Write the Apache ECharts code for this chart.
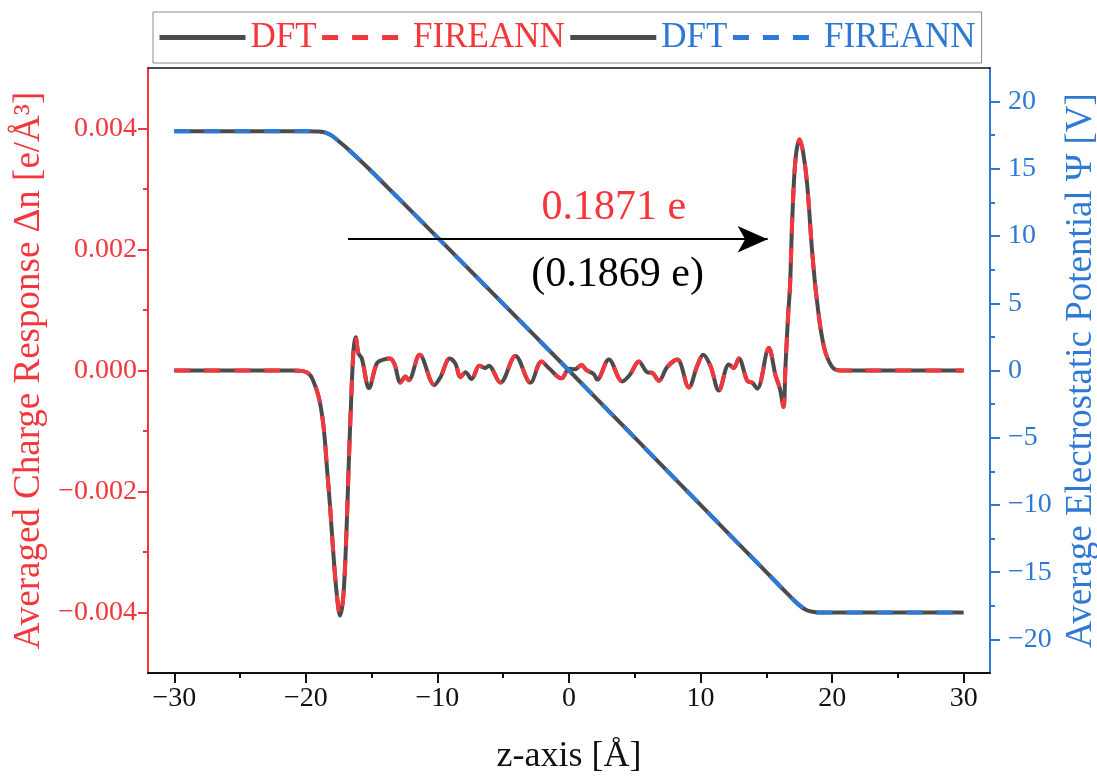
<!DOCTYPE html>
<html>
<head>
<meta charset="utf-8">
<script src="https://cdn.jsdelivr.net/npm/echarts@6/dist/echarts.min.js"></script>
<style>
html,body{margin:0;padding:0;background:#fff;}
#chart{width:1097px;height:776px;}
</style>
</head>
<body>
<div id="chart"></div>
<script>
// ---------- data ----------
const zDn = [-30, -25, -21, -20.2, -19.8, -19.5, -19.0, -18.65, -18.4, -18.15, -17.9, -17.65, -17.4, -17.15, -16.92, -16.75, -16.56, -16.38, -16.22, -16.0, -15.75, -15.2, -14.6, -14.1, -13.6, -13.27, -12.81, -12.43, -12.18, -11.35, -10.23, -9.77, -9.06, -8.63, -8.25, -7.87, -7.41, -6.81, -6.35, -6.1, -5.21, -4.07, -2.93, -2.09, -1.54, -0.57, 0.0, 0.45, 0.95, 1.3, 1.89, 2.14, 3.03, 4.05, 4.63, 5.31, 5.95, 6.33, 6.83, 7.47, 8.23, 9.11, 9.75, 10.2, 10.76, 11.39, 12.15, 12.53, 12.91, 13.55, 13.93, 14.31, 15.19, 15.7, 16.03, 16.3, 16.45, 16.65, 16.8, 16.97, 17.22, 17.53, 17.8, 18.11, 18.49, 18.87, 19.38, 20.0, 20.65, 25, 30];
const dnDft = [0, 0, 0, -0.00001, -0.00005, -0.00014, -0.00046, -0.00094, -0.0016, -0.00228, -0.00306, -0.0037, -0.00405, -0.00372, -0.0027, -0.0016, -0.0005, 0.00033, 0.00055, 0.00028, 0.0002, -0.00029, 0.00012, 0.00018, 0.0002, 0.00011, -0.0002, -0.0001, -0.00016, 0.00026, -0.00024, -0.00011, 0.0002, 0.00011, -0.00011, -0.00003, -0.00014, 0.00008, 0.00004, 0.00008, -0.0002, 0.00024, -0.0002, 0.00015, 0.00004, -0.00013, 0.00003, 0.00002, 0.00009, 0.00001, -0.00006, -0.00015, 0.00018, -0.00018, -0.00007, 0.00015, -0.00003, -0.00004, -0.00017, 0.00006, 0.00018, -0.00028, 0.00008, 0.00026, 0.00007, -0.00033, 0.0001, 0.00004, 0.0002, -0.00017, -0.0002, -0.0003, 0.00037, -0.00008, -0.0003, -0.0006, 0.00005, 0.0009, 0.0014, 0.0025, 0.0035, 0.00382, 0.0036, 0.00306, 0.00194, 0.00111, 0.00039, 0.00006, 0, 0, 0];
const dnFireann = [0, 0, 0, -0.00001, -0.00005, -0.00014, -0.00046, -0.00094, -0.0016, -0.00228, -0.00306, -0.0037, -0.00405, -0.00372, -0.0027, -0.0016, -0.0005, 0.00033, 0.00055, 0.00028, 0.0002, -0.00029, 0.00012, 0.00018, 0.0002, 0.00011, -0.0002, -0.0001, -0.00016, 0.00026, -0.00024, -0.00011, 0.0002, 0.00011, -0.00011, -0.00003, -0.00014, 0.00008, 0.00004, 0.00008, -0.0002, 0.00024, -0.0002, 0.00015, 0.00004, -0.00013, 0.00003, 0.00002, 0.00009, 0.00001, -0.00006, -0.00015, 0.00018, -0.00018, -0.00007, 0.00015, -0.00003, -0.00004, -0.00017, 0.00006, 0.00018, -0.00028, 0.00008, 0.00026, 0.00007, -0.00033, 0.0001, 0.00004, 0.0002, -0.00017, -0.0002, -0.0003, 0.00037, -0.00008, -0.0003, -0.0006, 0.00005, 0.0009, 0.0014, 0.0025, 0.0035, 0.00382, 0.0036, 0.00306, 0.00194, 0.00111, 0.00039, 0.00006, 0, 0, 0];

const zPot = [-30, -25, -20, -19, -18.5, -18, -17.5, -17, -16.5, -15, -10, -5, 0, 5, 10, 15, 16.5, 17, 17.5, 18, 18.5, 19, 20, 25, 30];
const potDft = [17.8, 17.8, 17.8, 17.78, 17.7, 17.45, 17.05, 16.65, 16.2, 14.8, 9.9, 4.95, 0, -5, -10, -15, -16.5, -17.0, -17.45, -17.8, -17.95, -18, -18, -18, -18];
const potFireann = [17.8, 17.8, 17.8, 17.78, 17.7, 17.45, 17.05, 16.65, 16.2, 14.8, 9.9, 4.95, 0, -5, -10, -15, -16.5, -17.0, -17.45, -17.8, -17.95, -18, -18, -18, -18];

const xTicks = [-30, -20, -10, 0, 10, 20, 30];
const xMinorTicks = [-25, -15, -5, 5, 15, 25];
const leftTicks = [-0.004, -0.002, 0, 0.002, 0.004];
const leftMinorTicks = [-0.003, -0.001, 0.001, 0.003];
const rightTicks = [-20, -15, -10, -5, 0, 5, 10, 15, 20];
const rightMinorTicks = [-17.5, -12.5, -7.5, -2.5, 2.5, 7.5, 12.5, 17.5];

const transferText = '0.1871 e';
const transferTextDft = '(0.1869 e)';
const arrowStartZ = -16.8, arrowEndZ = 15.1, arrowDn = 0.00217;
const labelRedPos = [3.4, 0.00268];
const labelBlackPos = [3.7, 0.00158];

// ---------- style ----------
const RED = '#f4373d', BLUE = '#2f79d6', GRAY = '#4b4b4b';
const FONT = '"Liberation Serif", "Times New Roman", serif';
const DASH = [16, 14];
const minus = v => (v < 0 ? '\u2212' : '');

const chart = echarts.init(document.getElementById('chart'), null, {renderer: 'canvas'});
const pairs = (xs, ys) => xs.map((x, i) => [x, ys[i]]);

const option = {
  animation: false,
  backgroundColor: '#fff',
  grid: {left: 148, right: 107, top: 68, bottom: 103, containLabel: false, outerBoundsMode: 'none'},
  legend: {
    left: 153, top: 12,
    itemWidth: 86, itemHeight: 14, itemGap: 3,
    padding: [8, 6, 8, 4],
    borderColor: '#8a8a8a', borderWidth: 1,
    itemStyle: {opacity: 0},
    lineStyle: {width: 5},
    textStyle: {fontFamily: FONT, fontSize: 35},
    formatter: name => name.trim(),
    data: [
      {name: 'DFT', textStyle: {color: RED}},
      {name: 'FIREANN', textStyle: {color: RED}},
      {name: 'DFT ', textStyle: {color: BLUE}},
      {name: 'FIREANN ', textStyle: {color: BLUE}}
    ]
  },
  xAxis: [
    {
      type: 'value', min: -32, max: 32, position: 'bottom',
      name: 'z-axis [\u00c5]', nameLocation: 'middle', nameGap: 66,
      nameTextStyle: {fontFamily: FONT, fontSize: 36, color: '#111'},
      axisLine: {show: true, onZero: false, lineStyle: {color: '#111', width: 2}},
      axisTick: {show: true, inside: false, length: 10, lineStyle: {color: '#111', width: 2}, customValues: xTicks},
      axisLabel: {show: true, margin: 12, fontFamily: FONT, fontSize: 28, color: '#111', customValues: xTicks,
        formatter: v => minus(v) + Math.abs(v)},
      splitLine: {show: false}
    },
    {
      type: 'value', min: -32, max: 32, position: 'bottom',
      axisLine: {show: false, onZero: false},
      axisTick: {show: true, length: 5, lineStyle: {color: '#111', width: 2}, customValues: xMinorTicks},
      axisLabel: {show: false}, splitLine: {show: false}
    },
    {
      type: 'value', min: -32, max: 32, position: 'top',
      axisLine: {show: true, onZero: false, lineStyle: {color: '#111', width: 1.5}},
      axisTick: {show: false}, axisLabel: {show: false}, splitLine: {show: false}
    }
  ],
  yAxis: [
    {
      type: 'value', min: -0.005, max: 0.005, position: 'left',
      name: 'Averaged Charge Response \u0394n [e/\u00c5\u00b3]', nameLocation: 'middle', nameGap: 92, nameRotate: 90,
      nameTextStyle: {fontFamily: FONT, fontSize: 37, color: RED},
      axisLine: {show: true, onZero: false, lineStyle: {color: RED, width: 2}},
      axisTick: {show: true, length: 10, lineStyle: {color: RED, width: 2}, customValues: leftTicks},
      axisLabel: {show: true, margin: 11, fontFamily: FONT, fontSize: 28, color: RED, customValues: leftTicks,
        formatter: v => minus(v) + Math.abs(v).toFixed(3)},
      splitLine: {show: false}
    },
    {
      type: 'value', min: -22.5, max: 22.5, position: 'right',
      name: 'Average Electrostatic Potential \u03a8 [V]', nameLocation: 'middle', nameGap: 66, nameRotate: 90,
      nameTextStyle: {fontFamily: FONT, fontSize: 37, color: BLUE},
      axisLine: {show: true, onZero: false, lineStyle: {color: BLUE, width: 2}},
      axisTick: {show: true, length: 10, lineStyle: {color: BLUE, width: 2}, customValues: rightTicks},
      axisLabel: {show: true, margin: 18, fontFamily: FONT, fontSize: 28, color: BLUE, customValues: rightTicks,
        formatter: v => minus(v) + Math.abs(v)},
      splitLine: {show: false}
    },
    {
      type: 'value', min: -0.005, max: 0.005, position: 'left',
      axisLine: {show: false, onZero: false},
      axisTick: {show: true, length: 5, lineStyle: {color: RED, width: 2}, customValues: leftMinorTicks},
      axisLabel: {show: false}, splitLine: {show: false}
    },
    {
      type: 'value', min: -22.5, max: 22.5, position: 'right',
      axisLine: {show: false, onZero: false},
      axisTick: {show: true, length: 5, lineStyle: {color: BLUE, width: 2}, customValues: rightMinorTicks},
      axisLabel: {show: false}, splitLine: {show: false}
    }
  ],
  series: [
    {
      name: 'DFT', type: 'line', xAxisIndex: 0, yAxisIndex: 0,
      data: pairs(zDn, dnDft), showSymbol: false, symbol: 'none', smooth: 0.35,
      lineStyle: {color: GRAY, width: 4}, itemStyle: {color: GRAY}, z: 2,
      markLine: {
        silent: true, symbol: ['none', 'arrow'], symbolSize: [20, 30],
        lineStyle: {color: '#000', width: 2, type: 'solid'},
        label: {show: false},
        data: [[{coord: [arrowStartZ, arrowDn]}, {coord: [arrowEndZ, arrowDn]}]]
      },
      markPoint: {
        silent: true, symbol: 'circle', symbolSize: 1, itemStyle: {color: 'rgba(0,0,0,0)'},
        data: [
          {coord: labelRedPos, label: {show: true, position: 'inside', formatter: transferText, fontFamily: FONT, fontSize: 42, color: RED}},
          {coord: labelBlackPos, label: {show: true, position: 'inside', formatter: transferTextDft, fontFamily: FONT, fontSize: 42, color: '#000'}}
        ]
      }
    },
    {
      name: 'FIREANN', type: 'line', xAxisIndex: 0, yAxisIndex: 0,
      data: pairs(zDn, dnFireann), showSymbol: false, symbol: 'none', smooth: 0.35,
      lineStyle: {color: RED, width: 4, type: DASH}, itemStyle: {color: RED}, z: 3
    },
    {
      name: 'DFT ', type: 'line', xAxisIndex: 0, yAxisIndex: 1,
      data: pairs(zPot, potDft), showSymbol: false, symbol: 'none', smooth: 0.3,
      lineStyle: {color: GRAY, width: 4}, itemStyle: {color: GRAY}, z: 2
    },
    {
      name: 'FIREANN ', type: 'line', xAxisIndex: 0, yAxisIndex: 1,
      data: pairs(zPot, potFireann), showSymbol: false, symbol: 'none', smooth: 0.3,
      lineStyle: {color: BLUE, width: 4, type: DASH}, itemStyle: {color: BLUE}, z: 3
    }
  ]
};
chart.setOption(option);
</script>
</body>
</html>
